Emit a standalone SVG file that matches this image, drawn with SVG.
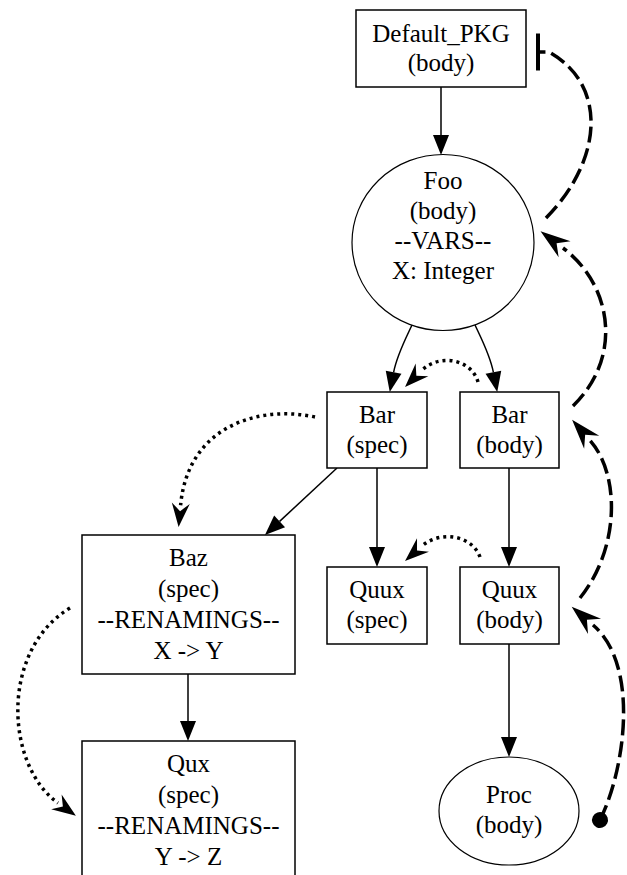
<svg xmlns="http://www.w3.org/2000/svg" width="627" height="875" viewBox="0 0 627 875">
<style>
  .node rect, .node ellipse { fill: #fff; stroke: #000; stroke-width: 1.5; }
  .node ellipse { stroke-width: 1.2; }
  .node text { font-family: 'Liberation Serif', 'Times New Roman', Times, serif; font-size: 25px; text-anchor: middle; fill: #000; }
  .solid { fill: none; stroke: #000; stroke-width: 1.5; }
  .dash { fill: none; stroke: #000; stroke-width: 3.5; stroke-dasharray: 16 6; }
  .dot { fill: none; stroke: #000; stroke-width: 3.5; stroke-dasharray: 3 4; }
</style>
<defs>
  <marker id="arr" markerUnits="userSpaceOnUse" orient="auto" overflow="visible" markerWidth="1" markerHeight="1" refX="0" refY="0">
    <path d="M0,-8 L20,0 L0,8 Z" fill="#000"/>
  </marker>
  <marker id="veeBig" markerUnits="userSpaceOnUse" orient="auto" overflow="visible" markerWidth="1" markerHeight="1" refX="0" refY="0">
    <path d="M-2,-10 L28,0 L-2,10 L8,0 Z" fill="#000"/>
  </marker>
  <marker id="veeSmall" markerUnits="userSpaceOnUse" orient="auto" overflow="visible" markerWidth="1" markerHeight="1" refX="0" refY="0">
    <path d="M-2,-9 L22,0 L-2,9 L6,0 Z" fill="#000"/>
  </marker>
  <marker id="tee" markerUnits="userSpaceOnUse" orient="auto" overflow="visible" markerWidth="1" markerHeight="1" refX="0" refY="0">
    <path d="M0,-18.5 L0,18.5" stroke="#000" stroke-width="4" fill="none"/>
  </marker>
  <marker id="dotTail" markerUnits="userSpaceOnUse" orient="auto" overflow="visible" markerWidth="1" markerHeight="1" refX="0" refY="0">
    <circle cx="0" cy="0" r="8" fill="#000"/>
  </marker>
</defs>

<g id="connectors">
  <path class="solid" d="M441,87 L441,135" marker-end="url(#arr)"/>
  <path class="solid" d="M412,325 C405,340 397,355 393.6,372.3" marker-end="url(#arr)"/>
  <path class="solid" d="M475,325 C482,340 490,355 493.4,372.3" marker-end="url(#arr)"/>
  <path class="solid" d="M337,468 L279.6,521.4" marker-end="url(#arr)"/>
  <path class="solid" d="M377,468 L377,547" marker-end="url(#arr)"/>
  <path class="solid" d="M509,468 L509,547" marker-end="url(#arr)"/>
  <path class="solid" d="M188,674 L188,721" marker-end="url(#arr)"/>
  <path class="solid" d="M509,644 L509,737" marker-end="url(#arr)"/>

  <path class="dot" d="M478,382 C472,360 440,352 420.6,371.4" marker-end="url(#veeSmall)"/>
  <path class="dot" d="M315,417 C260,405 188,425 180.6,505.2" marker-end="url(#veeSmall)"/>
  <path class="dot" d="M70,608 C0,650 5,765 58,803" marker-end="url(#veeSmall)"/>
  <path class="dot" d="M480,557 C472,535 440,530 421.5,546.4" marker-end="url(#veeSmall)"/>

  <path class="dash" d="M546,218 C603,160 608,85 549,52 L538,52" marker-end="url(#tee)"/>
  <path class="dash" d="M573,406 C625,355 610,283 563,248" marker-end="url(#veeBig)"/>
  <path class="dash" d="M580,598 C620,548 620,475 590.4,440.8" marker-end="url(#veeBig)"/>
  <path class="dash" d="M600,820 C625,770 640,665 593,625" marker-start="url(#dotTail)" marker-end="url(#veeBig)"/>
</g>

<g id="default_pkg" class="node">
  <rect x="356" y="10" width="170" height="77"/>
  <text x="441" y="42">Default_PKG</text>
  <text x="441" y="71">(body)</text>
</g>
<g id="foo_body" class="node">
  <ellipse cx="443" cy="242.5" rx="91" ry="88"/>
  <text x="443" y="189">Foo</text>
  <text x="443" y="219">(body)</text>
  <text x="443" y="249">--VARS--</text>
  <text x="443" y="279">X: Integer</text>
</g>
<g id="bar_spec" class="node">
  <rect x="327" y="392" width="100" height="76"/>
  <text x="377" y="423">Bar</text>
  <text x="377" y="453">(spec)</text>
</g>
<g id="bar_body" class="node">
  <rect x="460" y="392" width="99" height="76"/>
  <text x="509.5" y="423">Bar</text>
  <text x="509.5" y="453">(body)</text>
</g>
<g id="baz_spec" class="node">
  <rect x="82" y="535" width="213" height="139"/>
  <text x="188.5" y="566">Baz</text>
  <text x="188.5" y="597">(spec)</text>
  <text x="188.5" y="628">--RENAMINGS--</text>
  <text x="188.5" y="659">X -&gt; Y</text>
</g>
<g id="quux_spec" class="node">
  <rect x="327" y="567" width="100" height="77"/>
  <text x="377" y="598">Quux</text>
  <text x="377" y="628">(spec)</text>
</g>
<g id="quux_body" class="node">
  <rect x="460" y="567" width="99" height="77"/>
  <text x="509.5" y="598">Quux</text>
  <text x="509.5" y="628">(body)</text>
</g>
<g id="qux_spec" class="node">
  <rect x="82" y="741" width="213" height="139"/>
  <text x="188.5" y="772">Qux</text>
  <text x="188.5" y="803">(spec)</text>
  <text x="188.5" y="834">--RENAMINGS--</text>
  <text x="188.5" y="865">Y -&gt; Z</text>
</g>
<g id="proc_body" class="node">
  <ellipse cx="509" cy="811" rx="70" ry="54"/>
  <text x="509" y="803">Proc</text>
  <text x="509" y="833">(body)</text>
</g>
</svg>
